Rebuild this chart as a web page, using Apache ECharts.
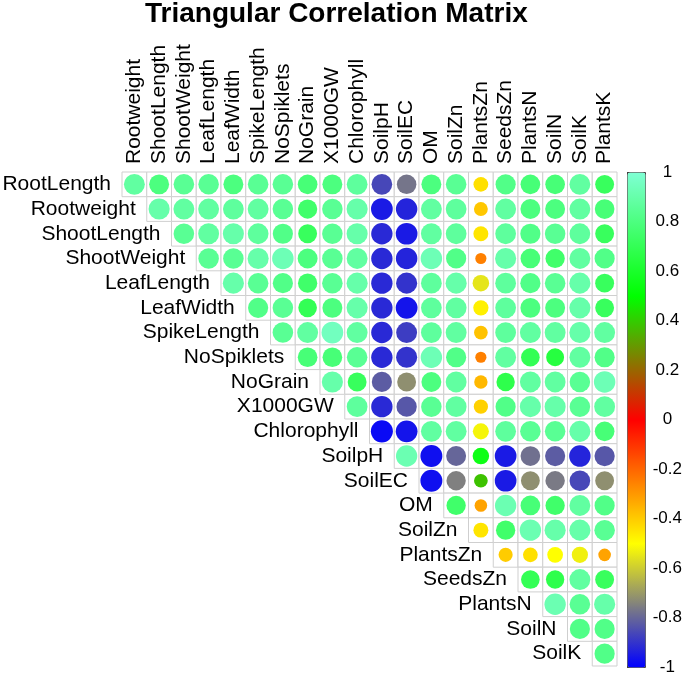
<!DOCTYPE html>
<html>
<head>
<meta charset="utf-8">
<title>Triangular Correlation Matrix</title>
<script src="https://cdn.jsdelivr.net/npm/echarts@6/dist/echarts.min.js"></script>
<style>
	html, body { margin: 0; padding: 0; background: #fff; }
	#chart { width: 685px; height: 676px; }
</style>
</head>
<body>
<div id="chart"></div>
<script>
// row / column names (upper triangle, no diagonal)
var rowNames = ['RootLength', 'Rootweight', 'ShootLength', 'ShootWeight', 'LeafLength', 'LeafWidth',
	'SpikeLength', 'NoSpiklets', 'NoGrain', 'X1000GW', 'Chlorophyll', 'SoilpH', 'SoilEC', 'OM',
	'SoilZn', 'PlantsZn', 'SeedsZn', 'PlantsN', 'SoilN', 'SoilK'];
var colNames = ['Rootweight', 'ShootLength', 'ShootWeight', 'LeafLength', 'LeafWidth', 'SpikeLength',
	'NoSpiklets', 'NoGrain', 'X1000GW', 'Chlorophyll', 'SoilpH', 'SoilEC', 'OM', 'SoilZn',
	'PlantsZn', 'SeedsZn', 'PlantsN', 'SoilN', 'SoilK', 'PlantsK'];

// each row starts at column index == row index
var rootLength = [0.88, 0.80, 0.85, 0.85, 0.80, 0.85, 0.85, 0.78, 0.80, 0.87, -0.86, -0.77, 0.80, 0.85, -0.44, 0.82, 0.78, 0.78, 0.88, 0.72];
var rootweight = [0.90, 0.88, 0.88, 0.87, 0.88, 0.85, 0.75, 0.85, 0.90, -0.95, -0.93, 0.88, 0.87, -0.39, 0.88, 0.80, 0.80, 0.88, 0.78];
var shootLength = [0.85, 0.88, 0.90, 0.87, 0.82, 0.72, 0.85, 0.90, -0.92, -0.95, 0.88, 0.87, -0.45, 0.87, 0.82, 0.85, 0.87, 0.72];
var shootWeight = [0.85, 0.85, 0.90, 0.93, 0.80, 0.85, 0.88, -0.92, -0.93, 0.93, 0.82, -0.25, 0.90, 0.78, 0.75, 0.88, 0.82];
var leafLength = [0.90, 0.85, 0.82, 0.75, 0.85, 0.90, -0.92, -0.90, 0.87, 0.90, -0.55, 0.87, 0.82, 0.85, 0.90, 0.72];
var leafWidth = [0.82, 0.85, 0.70, 0.80, 0.90, -0.92, -0.96, 0.87, 0.88, -0.47, 0.87, 0.80, 0.80, 0.90, 0.72];
var spikeLength = [0.85, 0.88, 0.95, 0.88, -0.92, -0.88, 0.87, 0.88, -0.38, 0.87, 0.88, 0.88, 0.90, 0.88];
var noSpiklets = [0.78, 0.78, 0.85, -0.92, -0.90, 0.93, 0.82, -0.25, 0.88, 0.70, 0.65, 0.88, 0.82];
var noGrain = [0.90, 0.72, -0.82, -0.72, 0.80, 0.88, -0.36, 0.68, 0.88, 0.88, 0.85, 0.93];
var x1000GW = [0.87, -0.92, -0.83, 0.85, 0.88, -0.41, 0.82, 0.90, 0.90, 0.85, 0.88];
var chlorophyll = [-0.98, -0.96, 0.88, 0.88, -0.52, 0.87, 0.85, 0.85, 0.90, 0.78];
var soilpH = [0.92, -0.97, -0.80, 0.55, -0.95, -0.78, -0.82, -0.93, -0.83];
var soilEC = [-0.97, -0.75, 0.38, -0.95, -0.72, -0.76, -0.86, -0.72];
var om = [0.75, -0.32, 0.92, 0.78, 0.75, 0.88, 0.82];
var soilZn = [-0.45, 0.75, 0.92, 0.90, 0.90, 0.85];
var plantsZn = [-0.40, -0.44, -0.50, -0.53, -0.32];
var seedsZn = [0.70, 0.68, 0.88, 0.72];
var plantsN = [0.92, 0.85, 0.90];
var soilN = [0.82, 0.82];
var soilK = [0.82];

var corrRows = [rootLength, rootweight, shootLength, shootWeight, leafLength, leafWidth, spikeLength,
	noSpiklets, noGrain, x1000GW, chlorophyll, soilpH, soilEC, om, soilZn, plantsZn, seedsZn,
	plantsN, soilN, soilK];

var colorTicks = [-1, -0.8, -0.6, -0.4, -0.2, 0, 0.2, 0.4, 0.6, 0.8, 1];

var fontName = 'Liberation Sans, Arial, sans-serif';

// [col, row, r]
var cells = [];
for (var i = 0; i < corrRows.length; i++) {
	for (var k = 0; k < corrRows[i].length; k++) {
		cells.push([i + k, i, corrRows[i][k]]);
	}
}

function renderCell(params, api) {
	var col = api.value(0);
	var row = api.value(1);
	var r = api.value(2);
	var c = api.coord([col, row]);
	var s = api.size([1, 1]);
	var children = [{
		type: 'rect',
		shape: { x: c[0] - s[0] / 2, y: c[1] - s[1] / 2, width: s[0], height: s[1] },
		style: { fill: '#ffffff', stroke: '#cfcfcf', lineWidth: 1 }
	}, {
		type: 'circle',
		// corrplot: radius ~ sqrt(|r|)
		shape: { cx: c[0], cy: c[1], r: s[0] * 0.45 * Math.sqrt(Math.abs(r)) },
		style: { fill: api.visual('color') }
	}];
	if (col === row) {
		// row label sits just left of the first cell
		children.push({
			type: 'text',
			x: c[0] - s[0] / 2 - 11,
			y: c[1],
			style: {
				text: rowNames[row],
				align: 'right',
				verticalAlign: 'middle',
				fontSize: 21,
				fontFamily: fontName,
				fill: '#000'
			}
		});
	}
	return { type: 'group', children: children };
}

var myChart = echarts.init(document.getElementById('chart'));

var option = {
	backgroundColor: '#fff',
	animation: false,
	title: {
		text: 'Triangular Correlation Matrix',
		left: 145,
		top: 0,
		padding: 0,
		textStyle: { fontSize: 28, fontWeight: 'bold', fontFamily: fontName, color: '#000' }
	},
	grid: [
		{ left: 122, top: 172, width: 495, height: 494 },
		{ left: 627, top: 172, width: 18, height: 495 }
	],
	xAxis: [{
		type: 'category',
		gridIndex: 0,
		position: 'top',
		data: colNames,
		axisLine: { show: false },
		axisTick: { show: false },
		splitLine: { show: false },
		axisLabel: { rotate: -90, margin: 8, fontSize: 21, fontFamily: fontName, color: '#000', interval: 0 }
	}, {
		type: 'value',
		gridIndex: 1,
		show: false
	}],
	yAxis: [{
		type: 'category',
		gridIndex: 0,
		inverse: true,
		data: rowNames,
		show: false
	}, {
		// ticks for the colour bar
		type: 'value',
		gridIndex: 1,
		position: 'right',
		min: -1,
		max: 1,
		interval: 0.2,
		axisLine: { show: false },
		splitLine: { show: false },
		axisTick: { show: true, length: 6, lineStyle: { color: '#333' } },
		axisLabel: {
			margin: 23,
			align: 'center',
			fontSize: 17,
			fontFamily: fontName,
			color: '#000',
			customValues: colorTicks,
			formatter: function (v) { return String(Math.round(v * 10) / 10); }
		}
	}],
	visualMap: {
		type: 'continuous',
		min: -1,
		max: 1,
		dimension: 2,
		seriesIndex: 0,
		calculable: false,
		realtime: false,
		text: null,
		showLabel: false,
		left: 627,
		top: 172,
		padding: 0,
		itemWidth: 18,
		itemHeight: 495,
		borderColor: '#444',
		borderWidth: 1,
		inRange: { color: ['#0000ff', '#ffff00', '#ff0000', '#00ff00', '#7fffd4'] }
	},
	series: [{
		type: 'custom',
		xAxisIndex: 0,
		yAxisIndex: 0,
		renderItem: renderCell,
		data: cells
	}, {
		// dummy so the colour bar axis gets drawn
		type: 'line',
		xAxisIndex: 1,
		yAxisIndex: 1,
		data: [],
		silent: true
	}]
};
myChart.setOption(option);
</script>
</body>
</html>
